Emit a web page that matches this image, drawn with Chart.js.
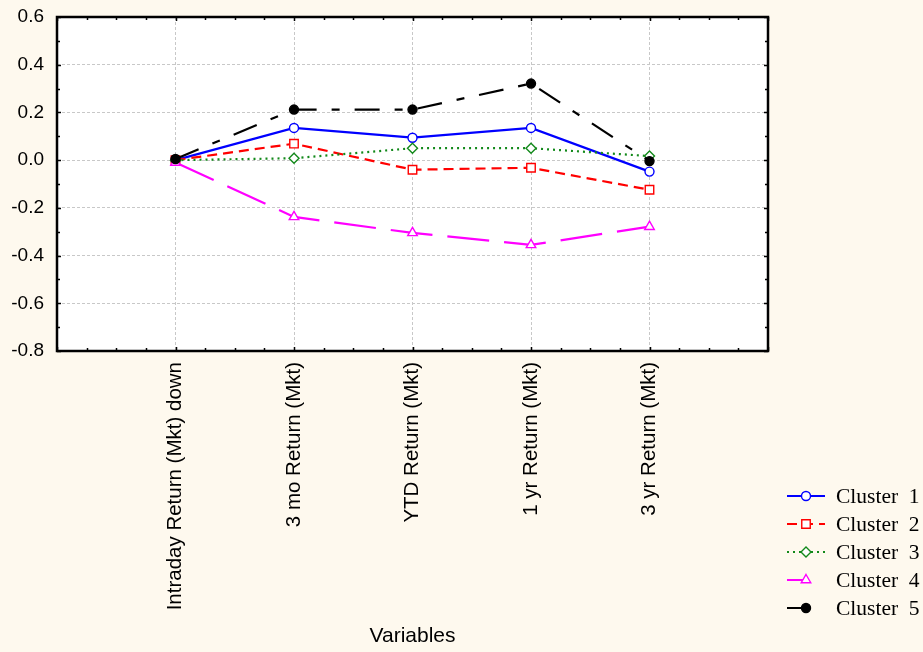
<!DOCTYPE html>
<html>
<head>
<meta charset="utf-8">
<title>Cluster means</title>
<script src="https://cdn.jsdelivr.net/npm/chart.js@4.4.1/dist/chart.umd.min.js"></script>
<style>
  html, body { margin: 0; padding: 0; background: #fef9ee; }
  #wrap { width: 923px; height: 652px; position: relative; }
</style>
</head>
<body>
<div id="wrap"><canvas id="clusterChart"></canvas></div>
<script>
// --- data ---
const variables = ['Intraday Return (Mkt) down', '3 mo Return (Mkt)', 'YTD Return (Mkt)', '1 yr Return (Mkt)', '3 yr Return (Mkt)'];
const cluster1 = [0.00, 0.135, 0.094, 0.135, -0.048];
const cluster2 = [0.00, 0.069, -0.040, -0.032, -0.124];
const cluster3 = [0.00, 0.008, 0.050, 0.050, 0.017];
const cluster4 = [-0.01, -0.238, -0.305, -0.355, -0.279];
const cluster5 = [0.005, 0.212, 0.212, 0.321, -0.004];
const clusterNames = ['Cluster  1', 'Cluster  2', 'Cluster  3', 'Cluster  4', 'Cluster  5'];
const yTicks = [-0.8, -0.6, -0.4, -0.2, 0.0, 0.2, 0.4, 0.6];

const SANS = "'Liberation Sans', Arial, sans-serif";
const SERIF = "'Liberation Serif', 'DejaVu Serif', serif";

// style per cluster (Statistica-like line plot)
const styles = [
    { color: '#0000ff', dash: [], point: 'circle', fill: '#ffffff', radius: 4.5 },
    { color: '#ff0000', dash: [10, 6], point: 'rect', fill: '#ffffff', radius: 6 },
    { color: '#12891a', dash: [2, 4], point: 'rectRot', fill: '#ffffff', radius: 5 },
    { color: '#ff00ff', dash: [42, 15], point: 'triangle', fill: '#ffffff', radius: 5.5 },
    { color: '#000000', dash: [25, 15, 8, 15], point: 'circle', fill: '#000000', radius: 4.5 }
];

const seriesList = [cluster1, cluster2, cluster3, cluster4, cluster5];

const datasets = seriesList.map((vals, i) => ({
    label: clusterNames[i],
    data: vals.map((v, j) => ({ x: j + 1, y: v })),
    borderColor: styles[i].color,
    borderWidth: 2.2,
    borderDash: styles[i].dash,
    pointStyle: styles[i].point,
    pointRadius: styles[i].radius,
    pointBorderWidth: 1.4,
    pointBorderColor: styles[i].color,
    pointBackgroundColor: styles[i].fill,
    tension: 0,
    order: 4 - i
}));

// white plot area + black frame + inward minor ticks
const frameAndTicks = {
    id: 'frameAndTicks',
    beforeDraw(chart) {
        const a = chart.chartArea;
        const ctx = chart.ctx;
        ctx.save();
        ctx.fillStyle = '#ffffff';
        ctx.fillRect(a.left, a.top, a.right - a.left, a.bottom - a.top);
        ctx.restore();
    },
    afterDraw(chart) {
        const a = chart.chartArea;
        const ctx = chart.ctx;
        const xs = chart.scales.x, ys = chart.scales.y;
        ctx.save();
        ctx.strokeStyle = '#000000';
        ctx.lineWidth = 1.5;
        ctx.beginPath();
        for (let v = 0; v <= 24; v++) {
            const px = Math.round(xs.getPixelForValue(v / 4)) + 0.5;
            const len = v % 4 === 0 ? 4 : 3;
            ctx.moveTo(px, a.bottom); ctx.lineTo(px, a.bottom - len);
            ctx.moveTo(px, a.top); ctx.lineTo(px, a.top + len);
        }
        for (let v = -8; v <= 6; v++) {
            const py = Math.round(ys.getPixelForValue(v / 10)) + 0.5;
            const len = v % 2 === 0 ? 4 : 3;
            ctx.moveTo(a.left, py); ctx.lineTo(a.left + len, py);
            ctx.moveTo(a.right, py); ctx.lineTo(a.right - len, py);
        }
        ctx.stroke();
        ctx.lineWidth = 2.5;
        ctx.strokeRect(a.left, a.top, a.right - a.left, a.bottom - a.top);
        ctx.restore();
    }
};

// legend box at bottom right, drawn with each dataset's own style
const lineLegend = {
    id: 'lineLegend',
    afterDraw(chart) {
        const ctx = chart.ctx;
        const x0 = 787, x1 = 825, xm = 806, tx = 836;
        let y = 496;
        chart.data.datasets.forEach((ds, i) => {
            ctx.save();
            ctx.strokeStyle = ds.borderColor;
            ctx.lineWidth = 2;
            ctx.setLineDash(ds.borderDash);
            ctx.beginPath();
            if (i >= 3) {
                ctx.moveTo(x0, y); ctx.lineTo(xm, y);
            } else {
                ctx.moveTo(x0, y); ctx.lineTo(x1, y);
            }
            ctx.stroke();
            ctx.setLineDash([]);
            ctx.fillStyle = ds.pointBackgroundColor;
            ctx.lineWidth = 1.4;
            Chart.helpers.drawPoint(ctx, {
                pointStyle: ds.pointStyle, radius: ds.pointRadius, rotation: 0, borderWidth: 1.4
            }, xm, y);
            ctx.fillStyle = '#000000';
            ctx.font = '21.5px ' + SERIF;
            ctx.textBaseline = 'middle';
            ctx.fillText(ds.label, tx, y + 1);
            ctx.restore();
            y += 28;
        });
    }
};

const ctx = document.getElementById('clusterChart');
new Chart(ctx, {
    type: 'line',
    data: { datasets: datasets },
    options: {
        responsive: true,
        maintainAspectRatio: false,
        animation: false,
        layout: { padding: { top: 17, right: 155, left: 0, bottom: 0 } },
        plugins: {
            legend: { display: false },
            tooltip: { enabled: false }
        },
        scales: {
            x: {
                type: 'linear',
                min: 0,
                max: 6,
                afterBuildTicks: (scale) => {
                    scale.ticks = variables.map((v, i) => ({ value: i + 1 }));
                },
                afterFit: (scale) => { scale.height = 301; },
                grid: { color: '#c8c8c8', lineWidth: 1, drawTicks: false },
                border: { display: false, dash: [3, 2] },
                ticks: {
                    autoSkip: false,
                    minRotation: 90,
                    maxRotation: 90,
                    padding: 11,
                    color: '#000000',
                    font: { family: SANS, size: 20.5 },
                    callback: (value) => variables[value - 1] || ''
                },
                title: {
                    display: true,
                    text: 'Variables',
                    color: '#000000',
                    font: { family: SANS, size: 21 },
                    padding: { top: 0, bottom: 3 }
                }
            },
            y: {
                min: -0.8,
                max: 0.6,
                afterBuildTicks: (scale) => {
                    scale.ticks = yTicks.map(v => ({ value: v }));
                },
                afterFit: (scale) => {
                    scale.width = 57;
                    scale.paddingTop = 0;
                    scale.paddingBottom = 0;
                },
                grid: { color: '#c8c8c8', lineWidth: 1, drawTicks: false },
                border: { display: false, dash: [3, 2] },
                ticks: {
                    padding: 13,
                    color: '#000000',
                    font: { family: SANS, size: 19 },
                    callback: (value) => (Math.abs(value) < 1e-9 ? 0 : value).toFixed(1)
                }
            }
        }
    },
    plugins: [frameAndTicks, lineLegend]
});
</script>
</body>
</html>
